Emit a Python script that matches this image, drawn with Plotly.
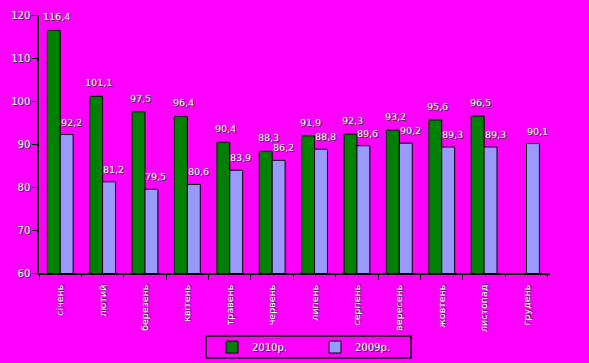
import plotly.graph_objects as go

months = ["січень", "лютий", "березень", "квітень", "травень", "червень",
          "липень", "серпень", "вересень", "жовтень", "листопад", "грудень"]
y2010 = [116.4, 101.1, 97.5, 96.4, 90.4, 88.3, 91.9, 92.3, 93.2, 95.6, 96.5, None]
y2009 = [92.2, 81.2, 79.5, 80.6, 83.9, 86.2, 88.8, 89.6, 90.2, 89.3, 89.3, 90.1]
yticks = [60, 70, 80, 90, 100, 110, 120]

def fmt(v):
    return f"{v:.1f}".replace(".", ",")

SH = "1px 1px 0px #333"
lab_font = dict(family="DejaVu Sans", size=9.5, color="white", shadow=SH)

fig = go.Figure()
fig.add_trace(go.Bar(name="2010р.", x=months, y=y2010,
                     marker=dict(color="#008000", line=dict(color="black", width=1))))
fig.add_trace(go.Bar(name="2009р.", x=months, y=y2009,
                     marker=dict(color="#9999FF", line=dict(color="black", width=1))))

# value labels above bars
for series, xs, ys in (("2010", -4, 6), ("2009", 11, 5)):
    vals = y2010 if series == "2010" else y2009
    for m, v in zip(months, vals):
        if v is None:
            continue
        fig.add_annotation(x=m, y=v, text=fmt(v), showarrow=False,
                           xanchor="center", yanchor="bottom",
                           xshift=xs, yshift=ys, font=lab_font)

# legend frame
L, R, T, B = 39, 39, 15, 90
PW, PH = 589 - L - R, 363 - T - B
fig.add_shape(type="rect", xref="paper", yref="paper",
              x0=(206 - L) / PW, x1=(411 - L) / PW,
              y0=(363 - B - 358) / PH, y1=(363 - B - 336) / PH,
              line=dict(color="black", width=1.5), fillcolor="rgba(0,0,0,0)")

fig.update_layout(
    width=589, height=363,
    paper_bgcolor="#FF00FF", plot_bgcolor="#FF00FF",
    margin=dict(l=L, r=R, t=T, b=B),
    barmode="group", bargap=0.39, bargroupgap=0,
    font=dict(family="DejaVu Sans", size=10, color="white"),
    showlegend=True,
    legend=dict(orientation="h", xref="container", yref="container",
                x=212 / 589, y=1 - 347 / 363, xanchor="left", yanchor="middle",
                borderwidth=0, bgcolor="rgba(0,0,0,0)",
                entrywidth=58, font=dict(size=10, color="white", shadow=SH),
                tracegroupgap=0),
)
fig.update_yaxes(range=[60, 120], tickvals=yticks, showgrid=False, zeroline=False,
                 showline=True, linecolor="black", linewidth=1.5, automargin=False,
                 ticks="outside", ticklen=5, tickcolor="black",
                 tickfont=dict(size=10, color="white", shadow=SH))
fig.update_xaxes(showgrid=False, showline=True, linecolor="black", linewidth=1.5,
                 ticks="outside", ticklen=5, tickcolor="black", tickson="boundaries",
                 tickangle=-90, ticklabelstandoff=6, automargin=False,
                 tickfont=dict(size=9.5, color="white", shadow=SH))

fig.write_html("out.html", config={"displayModeBar": False},
               post_script="document.body.style.margin='0';")
